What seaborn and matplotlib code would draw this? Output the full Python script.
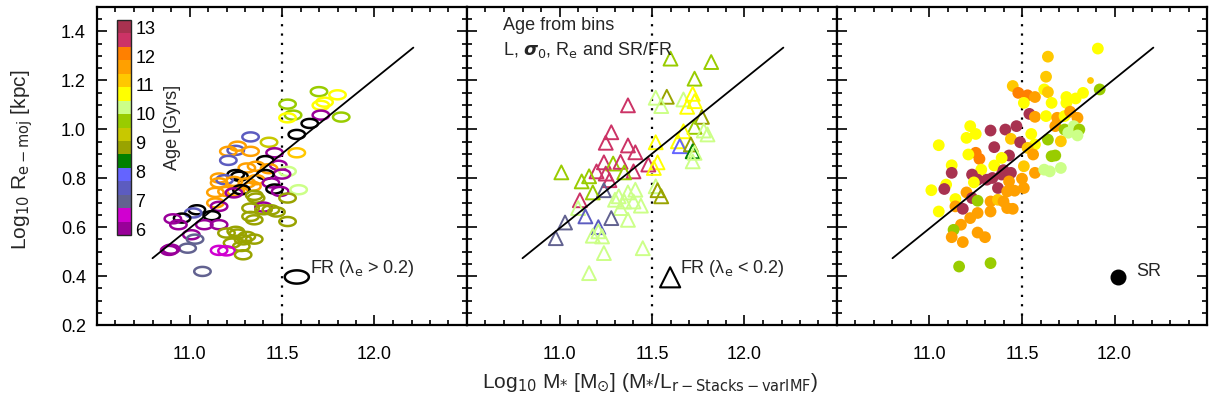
import numpy as np
import matplotlib
matplotlib.use("Agg")
import matplotlib.pyplot as plt
import matplotlib.colors as mcolors
from matplotlib.path import Path
from matplotlib.ticker import MultipleLocator, FormatStrFormatter
import seaborn as sns

# ---------------- data ----------------
age_colors = ['#990099', '#d000d0', '#626290', '#5c5cc0', '#6464ff', '#008000',
              '#99a300', '#c8c800', '#99cc00', '#ccff88', '#ffff00', '#ffc800',
              '#ffa000', '#ff8000', '#cc3366', '#a83250']
age_ticks = [6, 7, 8, 9, 10, 11, 12, 13]
x_ticks = [11.0, 11.5, 12.0]
y_ticks = [0.2, 0.4, 0.6, 0.8, 1.0, 1.2, 1.4]

fit_x = [10.80, 12.21]
fit_y = [0.473, 1.334]
mass_split = 11.5

# Panel 1: FR (lambda_e > 0.2); age 14 = black (above the age scale)
x1 = [11.70, 11.80, 11.53, 11.73, 11.71, 11.56, 11.53, 11.71, 11.82, 11.65,
      11.58, 11.33, 11.43, 11.26, 11.25, 11.33, 11.21, 11.46, 11.58, 11.21,
      11.41, 11.36, 11.48, 11.31, 11.43, 11.53, 11.50, 11.25, 11.27, 11.16,
      11.19, 11.41, 11.36, 11.16, 11.24, 11.31, 11.44, 11.34, 11.20, 11.25,
      11.14, 11.28, 11.24, 11.46, 11.49, 11.59, 11.35, 11.36, 11.53, 11.14,
      11.16, 11.40, 11.33, 11.40, 11.44, 11.47, 11.04, 11.02, 11.33, 11.35,
      11.53, 10.96, 11.12, 10.91, 10.94, 11.08, 11.16, 11.20, 11.25, 11.26,
      11.31, 11.35, 11.29, 11.23, 11.28, 11.01, 11.03, 10.99, 10.90, 10.89,
      11.16, 11.20, 11.29, 11.07]
y1 = [1.154, 1.141, 1.103, 1.111, 1.098, 1.058, 1.047, 1.058, 1.050, 1.024,
      0.979, 0.969, 0.947, 0.931, 0.914, 0.910, 0.910, 0.904, 0.904, 0.873,
      0.872, 0.849, 0.853, 0.842, 0.839, 0.828, 0.817, 0.815, 0.808, 0.801,
      0.794, 0.815, 0.794, 0.781, 0.787, 0.781, 0.781, 0.767, 0.746, 0.746,
      0.742, 0.753, 0.740, 0.756, 0.746, 0.753, 0.730, 0.719, 0.719, 0.699,
      0.685, 0.682, 0.678, 0.671, 0.671, 0.662, 0.671, 0.658, 0.644, 0.630,
      0.623, 0.637, 0.647, 0.634, 0.610, 0.610, 0.610, 0.576, 0.583, 0.572,
      0.562, 0.551, 0.548, 0.535, 0.521, 0.569, 0.551, 0.514, 0.510, 0.505,
      0.505, 0.503, 0.487, 0.419]
age1 = [9.8, 10.7, 9.8, 10.7, 10.7, 9.8, 10.7, 6.0, 9.8, 14.0,
        14.0, 7.4, 9.3, 11.6, 7.4, 11.6, 11.6, 6.0, 11.2, 7.4,
        14.0, 11.6, 6.0, 11.6, 11.6, 10.2, 6.0, 14.0, 14.0, 11.6,
        7.4, 14.0, 11.6, 11.6, 11.6, 11.6, 6.0, 11.6, 11.6, 11.6,
        11.6, 14.0, 6.0, 14.0, 6.0, 10.2, 8.8, 8.8, 8.8, 11.6,
        6.0, 6.0, 8.8, 8.8, 8.8, 8.8, 14.0, 7.4, 8.8, 8.8,
        8.8, 14.0, 14.0, 6.0, 6.0, 6.0, 6.0, 8.8, 8.8, 8.8,
        8.8, 8.8, 8.8, 8.8, 8.8, 6.0, 7.0, 7.0, 6.0, 6.0,
        6.5, 6.5, 8.8, 7.0]

# Panel 2: FR (lambda_e < 0.2)
x2 = [11.60, 11.82, 11.73, 11.52, 11.58, 11.55, 11.67, 11.72, 11.73, 11.69,
      11.37, 11.77, 11.73, 11.67, 11.78, 11.80, 11.28, 11.25, 11.37, 11.41,
      11.52, 11.64, 11.65, 11.71, 11.72, 11.73, 11.72, 11.24, 11.29, 11.33,
      11.53, 11.48, 11.51, 11.20, 11.25, 11.40, 11.35, 11.01, 11.16, 11.12,
      11.27, 11.24, 11.18, 11.52, 11.53, 11.55, 11.41, 11.37, 11.32, 11.30,
      11.35, 11.40, 11.44, 11.11, 11.10, 11.33, 11.28, 11.14, 11.03, 11.37,
      11.21, 11.21, 11.18, 11.23, 10.98, 11.24, 11.45, 11.16]
y2 = [1.289, 1.275, 1.207, 1.129, 1.133, 1.095, 1.122, 1.145, 1.115, 1.092,
      1.098, 1.051, 1.010, 0.992, 0.995, 0.979, 0.988, 0.945, 0.934, 0.906,
      0.947, 0.951, 0.931, 0.938, 0.910, 0.904, 0.869, 0.865, 0.860, 0.867,
      0.865, 0.856, 0.842, 0.828, 0.819, 0.828, 0.824, 0.824, 0.808, 0.787,
      0.792, 0.751, 0.742, 0.767, 0.751, 0.726, 0.753, 0.742, 0.726, 0.712,
      0.705, 0.705, 0.688, 0.710, 0.678, 0.678, 0.637, 0.644, 0.619, 0.630,
      0.600, 0.583, 0.565, 0.562, 0.555, 0.494, 0.514, 0.412]
age2 = [9.8, 9.8, 9.8, 10.2, 8.8, 10.2, 10.2, 10.7, 10.7, 10.7,
        12.5, 8.8, 9.8, 10.7, 10.2, 10.2, 12.5, 12.5, 12.5, 12.5,
        10.7, 10.7, 7.9, 8.8, 8.4, 10.2, 10.2, 12.5, 9.8, 12.5,
        10.7, 12.5, 10.7, 12.5, 12.5, 12.5, 9.8, 9.8, 9.8, 9.8,
        12.5, 7.0, 9.8, 10.2, 8.8, 8.8, 10.2, 10.2, 10.2, 10.2,
        10.2, 10.2, 10.2, 12.5, 10.2, 10.2, 7.0, 7.4, 7.0, 10.2,
        7.4, 10.2, 10.2, 10.2, 7.0, 10.2, 10.2, 10.2]

# Panel 3: SR
x3 = [11.91, 11.64, 11.63, 11.45, 11.48, 11.53, 11.57, 11.62, 11.64, 11.51,
      11.66, 11.74, 11.79, 11.83, 11.92, 11.74, 11.54, 11.57, 11.63, 11.69,
      11.73, 11.76, 11.80, 11.68, 11.73, 11.78, 11.75, 11.81, 11.80, 11.71,
      11.64, 11.22, 11.33, 11.41, 11.47, 11.20, 11.25, 11.44, 11.49, 11.55,
      11.57, 11.05, 11.35, 11.53, 11.25, 11.27, 11.21, 11.43, 11.39, 11.56,
      11.66, 11.68, 11.12, 11.12, 11.28, 11.35, 11.23, 11.26, 11.31, 11.34,
      11.39, 11.44, 11.40, 11.51, 11.57, 11.62, 11.65, 11.71, 11.09, 11.08,
      11.01, 11.24, 11.37, 11.43, 11.50, 11.42, 11.46, 11.51, 11.20, 11.23,
      11.26, 11.14, 11.14, 11.18, 11.33, 11.37, 11.40, 11.42, 11.45, 11.05,
      11.26, 11.22, 11.33, 11.17, 11.13, 11.12, 11.26, 11.30, 11.18, 11.16,
      11.33]
y3 = [1.330, 1.297, 1.215, 1.177, 1.149, 1.139, 1.132, 1.163, 1.152, 1.108,
      1.108, 1.132, 1.126, 1.149, 1.163, 1.108, 1.063, 1.051, 1.054, 1.047,
      1.054, 1.072, 1.047, 1.013, 0.999, 1.013, 0.986, 0.999, 0.975, 0.951,
      0.958, 1.013, 0.995, 0.999, 1.013, 0.965, 0.981, 0.961, 0.947, 0.981,
      0.938, 0.935, 0.927, 0.924, 0.904, 0.879, 0.897, 0.893, 0.883, 0.897,
      0.890, 0.893, 0.853, 0.822, 0.835, 0.852, 0.815, 0.794, 0.794, 0.801,
      0.815, 0.822, 0.833, 0.849, 0.822, 0.835, 0.828, 0.842, 0.774, 0.756,
      0.751, 0.783, 0.760, 0.787, 0.798, 0.746, 0.749, 0.760, 0.742, 0.719,
      0.708, 0.715, 0.685, 0.675, 0.705, 0.712, 0.705, 0.678, 0.675, 0.664,
      0.658, 0.637, 0.664, 0.610, 0.589, 0.559, 0.578, 0.559, 0.539, 0.439,
      0.453]
age3 = [10.7, 11.2, 11.2, 11.2, 12.1, 12.1, 11.6, 10.7, 11.2, 10.7,
        10.7, 10.7, 10.7, 10.7, 9.8, 10.7, 13.0, 11.6, 10.7, 11.6,
        10.7, 11.6, 11.6, 11.6, 9.8, 10.2, 10.2, 9.8, 10.2, 11.2,
        9.8, 10.7, 13.0, 13.0, 13.0, 10.7, 10.7, 11.2, 13.0, 10.7,
        10.7, 10.7, 13.0, 11.2, 12.1, 12.1, 10.7, 13.0, 10.7, 11.6,
        9.8, 9.8, 10.7, 13.0, 10.7, 10.7, 13.0, 13.0, 13.0, 13.0,
        13.0, 13.0, 13.0, 11.2, 11.6, 10.2, 10.2, 10.2, 10.7, 13.0,
        10.7, 10.7, 13.0, 11.6, 11.6, 11.6, 11.6, 11.6, 11.6, 13.0,
        9.8, 10.7, 11.6, 13.0, 11.6, 11.2, 11.6, 11.6, 11.6, 10.7,
        11.6, 11.6, 11.6, 11.6, 9.8, 11.6, 11.6, 11.6, 11.6, 9.8,
        9.8]
x3_small = [11.87]
y3_small = [1.203]
age3_small = [11.2]

# ---------------- style ----------------
sns.set_style("ticks")
plt.rcParams['font.family'] = ['Liberation Sans', 'DejaVu Sans']
plt.rcParams['mathtext.fontset'] = 'dejavusans'

cmap = mcolors.ListedColormap(age_colors)
cmap.set_over('black')
norm = mcolors.BoundaryNorm(np.linspace(5.8, 13.25, 17), cmap.N)

fig = plt.figure(figsize=(12.12, 4.07), dpi=100)
left0, w, b, h = 97/1212, 370/1212, 1 - 325/407, 318/407
axes = [fig.add_axes([left0 + i*w, b, w, h]) for i in range(3)]

# ellipse marker
t = np.linspace(0, 2*np.pi, 60)
ell = Path(np.column_stack([np.cos(t), 0.55*np.sin(t)]), closed=True)


def open_markers(ax):
    pc = ax.collections[-1]
    fc = pc.get_facecolors()
    pc.set_edgecolors(fc)
    pc.set_facecolors('none')
    return pc


for i, ax in enumerate(axes):
    ax.set_xlim(10.5, 12.5)
    ax.set_ylim(0.2, 1.5)
    ax.set_xticks(x_ticks)
    ax.set_yticks(y_ticks)
    ax.xaxis.set_minor_locator(MultipleLocator(0.1))
    ax.yaxis.set_minor_locator(MultipleLocator(0.05))
    ax.xaxis.set_major_formatter(FormatStrFormatter('%.1f'))
    ax.yaxis.set_major_formatter(FormatStrFormatter('%.1f'))
    ax.tick_params(which='both', direction='in', top=True, right=True,
                   width=1.2, colors='black', labelsize=13)
    ax.tick_params(which='major', length=7)
    ax.tick_params(which='minor', length=3.5)
    ax.tick_params(axis='x', pad=15)
    ax.tick_params(axis='y', pad=8)
    if i > 0:
        ax.tick_params(axis='y', labelleft=False)
    for sp in ax.spines.values():
        sp.set_linewidth(1.6)
        sp.set_color('black')
    ax.axvline(mass_split, color='black', lw=1.6, ls=(0, (1, 3.2)), zorder=1)
    ax.plot(fit_x, fit_y, color='black', lw=1.3, zorder=5)

# Panel 1
ax = axes[0]
sns.scatterplot(x=x1, y=y1, hue=age1, palette=cmap, hue_norm=norm,
                marker=ell, s=140, legend=False, ax=ax, zorder=3)
pc = open_markers(ax)
pc.set_linewidths(1.8)
ax.scatter([0.54], [0.151], marker=ell, s=300, facecolors='none',
           edgecolors='black', linewidths=1.8, transform=ax.transAxes)
ax.text(0.576, 0.178, 'FR (λ$_\\mathrm{e}$ > 0.2)', transform=ax.transAxes,
        fontsize=13, ha='left', va='center')

cax = ax.inset_axes([0.054, 0.283, 0.038, 0.676])
sm = plt.cm.ScalarMappable(norm=norm, cmap=cmap)
cb = fig.colorbar(sm, cax=cax, ticks=age_ticks)
cb.outline.set_linewidth(1.0)
cax.tick_params(direction='in', length=3, width=1, labelsize=13, pad=3,
                right=True, colors='black')
cax.yaxis.set_minor_locator(plt.NullLocator())
ax.text(0.203, 0.62, 'Age [Gyrs]', transform=ax.transAxes, rotation=90,
        fontsize=13, ha='center', va='center')

# Panel 2
ax = axes[1]
sns.scatterplot(x=x2, y=y2, hue=age2, palette=cmap, hue_norm=norm,
                marker='^', s=100, legend=False, ax=ax, zorder=3)
pc = open_markers(ax)
pc.set_linewidths(1.4)
ax.scatter([0.549], [0.15], marker='^', s=210, facecolors='none',
           edgecolors='black', linewidths=1.5, transform=ax.transAxes)
ax.text(0.576, 0.178, 'FR (λ$_\\mathrm{e}$ < 0.2)', transform=ax.transAxes,
        fontsize=13, ha='left', va='center')
ax.text(0.097, 0.943, 'Age from bins', transform=ax.transAxes,
        fontsize=13, ha='left', va='center')
ax.text(0.097, 0.865, r'L, $\boldsymbol{\sigma}_\mathrm{0}$, R$_\mathrm{e}$ and SR/FR',
        transform=ax.transAxes, fontsize=13, ha='left', va='center')

# Panel 3
ax = axes[2]
sns.scatterplot(x=x3, y=y3, hue=age3, palette=cmap, hue_norm=norm,
                marker='o', s=72, linewidth=0, legend=False, ax=ax, zorder=3)
sns.scatterplot(x=x3_small, y=y3_small, hue=age3_small, palette=cmap,
                hue_norm=norm, marker='o', s=24, linewidth=0, legend=False,
                ax=ax, zorder=3)
ax.scatter([0.759], [0.151], marker='o', s=110, color='black',
           transform=ax.transAxes)
ax.text(0.81, 0.168, 'SR', transform=ax.transAxes, fontsize=13,
        ha='left', va='center')

fig.text(22/1212, 1 - 160/407, r'Log$_\mathrm{10}$ R$_\mathrm{e-moj}$ [kpc]',
         rotation=90, fontsize=15, ha='center', va='center')
fig.text(650/1212, 1 - 383/407,
         r'Log$_\mathrm{10}$ M$_{*}$ [M$_{\odot}$] (M$_{*}$/L$_\mathrm{r-Stacks-varIMF}$)',
         fontsize=15, ha='center', va='center')

fig.savefig('out.png', dpi=100)
